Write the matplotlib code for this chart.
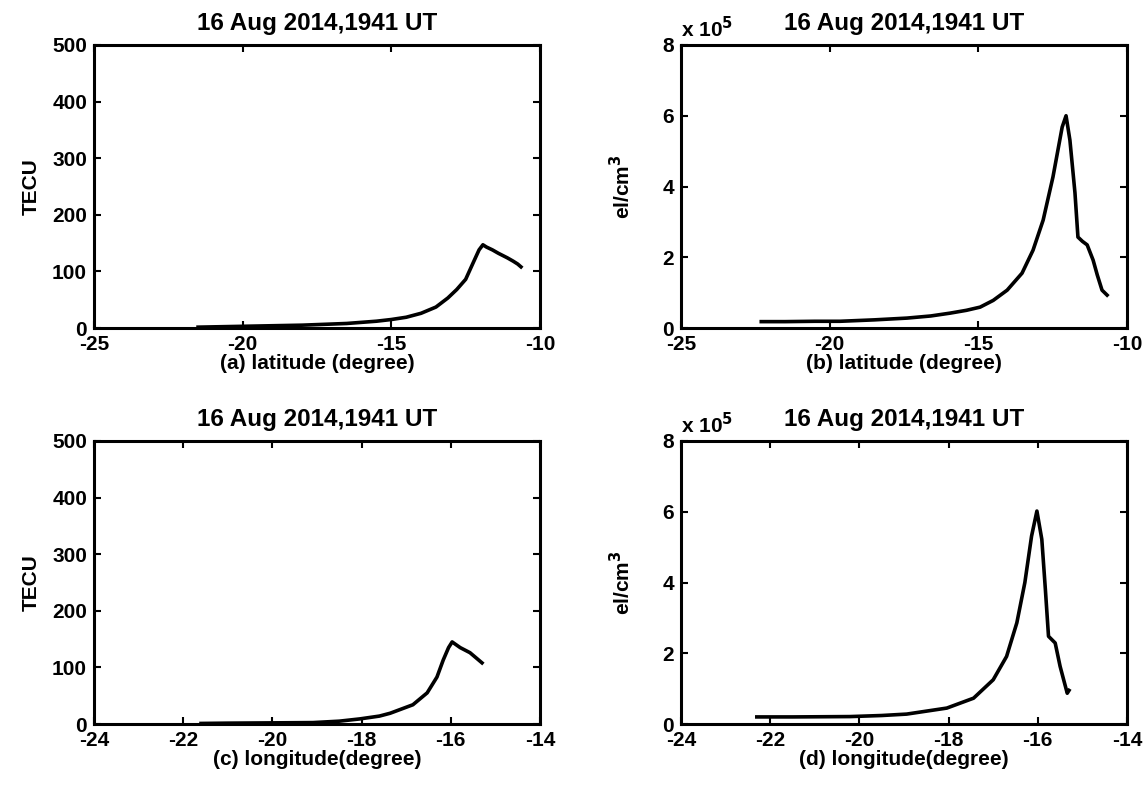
import numpy as np
import matplotlib
matplotlib.use('Agg')
import matplotlib.pyplot as plt

plt.rcParams['font.family'] = ['Liberation Sans', 'DejaVu Sans']
plt.rcParams['font.weight'] = 'bold'
plt.rcParams['font.size'] = 15
plt.rcParams['axes.unicode_minus'] = False

TITLE = "16 Aug 2014,1941 UT"

# TEC along latitude (TECU)
lat_tec = [-21.5, -21.0, -20.0, -19.0, -18.0, -17.0, -16.5, -16.0, -15.5, -15.0, -14.5, -14.0,
           -13.5, -13.1, -12.8, -12.5, -12.25, -12.05, -11.92, -11.8, -11.6, -11.4, -11.1,
           -10.9, -10.75, -10.64]
tec_lat = [1.5, 2, 3, 4, 5, 7, 8, 10, 12, 15, 19, 26,
           37, 53, 68, 86, 115, 138, 147, 143, 138, 132, 124,
           118, 113, 108]

# electron density along latitude (x 10^5 el/cm^3)
lat_ne = [-22.3, -21.5, -20.5, -19.65, -18.5, -17.4, -16.6, -15.95, -15.4, -14.94, -14.5,
          -14.03, -13.53, -13.16, -12.82, -12.49, -12.18, -12.05, -11.92, -11.75, -11.65,
          -11.5, -11.34, -11.14, -11.0, -10.84, -10.67]
ne_lat = [0.18, 0.18, 0.19, 0.19, 0.23, 0.28, 0.34, 0.42, 0.5, 0.59, 0.78,
          1.07, 1.55, 2.2, 3.05, 4.27, 5.68, 6.0, 5.31, 3.82, 2.57,
          2.45, 2.35, 1.92, 1.5, 1.07, 0.93]

# TEC along longitude (TECU)
lon_tec = [-21.6, -21.0, -20.0, -19.09, -18.5, -18.04, -17.6, -17.36, -16.85, -16.53, -16.31,
           -16.17, -16.05, -15.97, -15.88, -15.79, -15.57, -15.45, -15.30]
tec_lon = [1, 1.5, 2, 2.5, 5, 9, 14, 19, 34, 55, 83,
           113, 135, 145, 140, 135, 126, 118, 108]

# electron density along longitude (x 10^5 el/cm^3)
lon_ne = [-22.3, -21.5, -20.21, -19.5, -18.94, -18.04, -17.44, -17.0, -16.7, -16.47, -16.29,
          -16.14, -16.02, -15.91, -15.83, -15.76, -15.61, -15.5, -15.34, -15.3]
ne_lon = [0.2, 0.2, 0.21, 0.24, 0.28, 0.45, 0.73, 1.25, 1.91, 2.86, 4.0,
          5.31, 6.02, 5.22, 3.8, 2.48, 2.29, 1.63, 0.87, 0.95]

fig = plt.figure(figsize=(11.43, 7.89), dpi=100)

W = 446 / 1143
H = 283 / 789
panels = [
    (94 / 1143, (789 - 328) / 789, lat_tec, tec_lat, (-25, -10), (0, 500), 'TECU', '(a) latitude (degree)', False),
    (681 / 1143, (789 - 328) / 789, lat_ne, ne_lat, (-25, -10), (0, 8), 'el/cm$^3$', '(b) latitude (degree)', True),
    (94 / 1143, (789 - 724) / 789, lon_tec, tec_lon, (-24, -14), (0, 500), 'TECU', '(c) longitude(degree)', False),
    (681 / 1143, (789 - 724) / 789, lon_ne, ne_lon, (-24, -14), (0, 8), 'el/cm$^3$', '(d) longitude(degree)', True),
]

for left, bottom, x, y, xlim, ylim, ylab, xlab, sci in panels:
    ax = fig.add_axes([left, bottom, W, H])
    ax.plot(x, y, color='black', lw=2.6)
    ax.set_xlim(*xlim)
    ax.set_ylim(*ylim)
    if xlim[0] == -25:
        ax.set_xticks(np.arange(-25, -9, 5))
    else:
        ax.set_xticks(np.arange(-24, -13, 2))
    if sci:
        ax.set_yticks([0, 2, 4, 6, 8])
        ax.text(0.0, 1.015, r'x 10$^5$', transform=ax.transAxes, ha='left', va='bottom',
                fontsize=15, fontweight='bold')
        ax.set_ylabel(ylab, fontweight='bold', labelpad=20)
    else:
        ax.set_yticks(np.arange(0, 501, 100))
        ax.set_ylabel(ylab, fontweight='bold', labelpad=8)
    ax.tick_params(direction='in', top=True, right=True, length=5, width=1.5, pad=5)
    for s in ax.spines.values():
        s.set_linewidth(2.2)
    ax.set_title(TITLE, fontweight='bold', fontsize=17.5, pad=11)
    ax.set_xlabel(xlab, fontweight='bold', labelpad=0)

fig.savefig('out.png', dpi=100)
